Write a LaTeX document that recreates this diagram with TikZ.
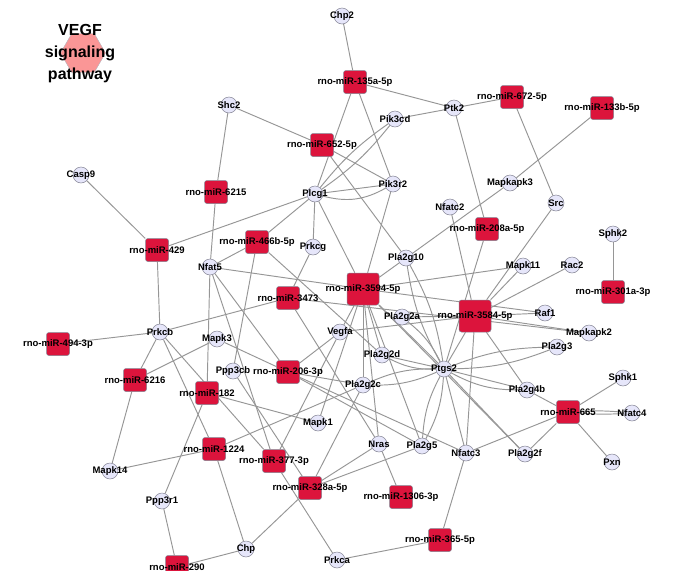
\documentclass[tikz,border=0pt]{standalone}
\usepackage{fontspec}
\setmainfont{Liberation Sans}
\usetikzlibrary{shapes.geometric, positioning}
\definecolor{mirred}{RGB}{220,20,60}
\definecolor{genefill}{RGB}{230,230,250}
\definecolor{nodeline}{RGB}{130,130,145}
\definecolor{edgegray}{RGB}{150,150,150}
\definecolor{hexpink}{RGB}{250,150,150}
\pgfdeclarelayer{bg}
\pgfsetlayers{bg,main}
\tikzset{
  mirna/.style={rectangle, rounded corners=2.5pt, fill=mirred, draw=nodeline,
    line width=0.5pt, minimum size=23pt, inner sep=0pt},
  bigmirna/.style={mirna, minimum size=32pt},
  gene/.style={circle, fill=genefill, draw=nodeline, line width=0.5pt,
    minimum size=16pt, inner sep=0pt},
  lbl/.style={font=\fontsize{9.5}{11}\selectfont\bfseries, inner sep=0pt, text=black},
  edge/.style={draw=edgegray, line width=0.95pt},
  pathway/.style={regular polygon, regular polygon sides=6, fill=hexpink,
    draw=nodeline!60, minimum size=45pt, inner sep=0pt},
  title/.style={align=center, font=\fontsize{16}{22}\selectfont\bfseries}
}

\begin{document}
\begin{tikzpicture}[x=1pt, y=-1pt]
    \useasboundingbox (0,0) rectangle (673,571);
    \clip (0,0) rectangle (673,571);

    % Pathway node
    \node[pathway] (vegf) at (83,53) {};
    \node[title] (vegftitle) at (80,54) {VEGF\\signaling\\pathway};

    % Genes
    \node[gene, label={[lbl]center:Chp2}] (chp2) at (342,16) {};
    \node[gene, label={[lbl]center:Shc2}] (shc2) at (229,105) {};
    \node[gene, label={[lbl]center:Pik3cd}] (pik3cd) at (395,119) {};
    \node[gene, label={[lbl]center:Ptk2}] (ptk2) at (454,108) {};
    \node[gene, label={[lbl]center:Casp9}] (casp9) at (81,175) {};
    \node[gene, label={[lbl]center:Plcg1}] (plcg1) at (315,194) {};
    \node[gene, label={[lbl]center:Pik3r2}] (pik3r2) at (393,184) {};
    \node[gene, label={[lbl]center:Mapkapk3}] (mapkapk3) at (510,183) {};
    \node[gene, label={[lbl]center:Nfatc2}] (nfatc2) at (450,207) {};
    \node[gene, label={[lbl]center:Src}] (src) at (556,203) {};
    \node[gene, label={[lbl]center:Sphk2}] (sphk2) at (613,234) {};
    \node[gene, label={[lbl]center:Prkcg}] (prkcg) at (313,247) {};
    \node[gene, label={[lbl]center:Nfat5}] (nfat5) at (210,267) {};
    \node[gene, label={[lbl]center:Pla2g10}] (pla2g10) at (406,258) {};
    \node[gene, label={[lbl]center:Mapk11}] (mapk11) at (523,266) {};
    \node[gene, label={[lbl]center:Rac2}] (rac2) at (572,265) {};
    \node[gene, label={[lbl]center:Raf1}] (raf1) at (545,313) {};
    \node[gene, label={[lbl]center:Pla2g2a}] (pla2g2a) at (402,317) {};
    \node[gene, label={[lbl]center:Vegfa}] (vegfa) at (340,332) {};
    \node[gene, label={[lbl]center:Mapkapk2}] (mapkapk2) at (589,333) {};
    \node[gene, label={[lbl]center:Prkcb}] (prkcb) at (160,332) {};
    \node[gene, label={[lbl]center:Mapk3}] (mapk3) at (217,339) {};
    \node[gene, label={[lbl]center:Ppp3cb}] (ppp3cb) at (233,371) {};
    \node[gene, label={[lbl]center:Pla2g3}] (pla2g3) at (557,347) {};
    \node[gene, label={[lbl]center:Pla2g2d}] (pla2g2d) at (382,355) {};
    \node[gene, label={[lbl]center:Ptgs2}] (ptgs2) at (444,369) {};
    \node[gene, label={[lbl]center:Pla2g2c}] (pla2g2c) at (363,385) {};
    \node[gene, label={[lbl]center:Pla2g4b}] (pla2g4b) at (527,390) {};
    \node[gene, label={[lbl]center:Sphk1}] (sphk1) at (623,378) {};
    \node[gene, label={[lbl]center:Nfatc4}] (nfatc4) at (632,413) {};
    \node[gene, label={[lbl]center:Mapk1}] (mapk1) at (318,423) {};
    \node[gene, label={[lbl]center:Nras}] (nras) at (379,444) {};
    \node[gene, label={[lbl]center:Pla2g5}] (pla2g5) at (422,446) {};
    \node[gene, label={[lbl]center:Nfatc3}] (nfatc3) at (466,453) {};
    \node[gene, label={[lbl]center:Pla2g2f}] (pla2g2f) at (525,454) {};
    \node[gene, label={[lbl]center:Pxn}] (pxn) at (612,462) {};
    \node[gene, label={[lbl]center:Mapk14}] (mapk14) at (110,471) {};
    \node[gene, label={[lbl]center:Ppp3r1}] (ppp3r1) at (162,501) {};
    \node[gene, label={[lbl]center:Chp}] (chp) at (246,549) {};
    \node[gene, label={[lbl]center:Prkca}] (prkca) at (337,560) {};

    % miRNAs
    \node[mirna, label={[lbl]center:rno-miR-135a-5p}] (m135a) at (355,82) {};
    \node[mirna, label={[lbl]center:rno-miR-652-5p}] (m652) at (322,145) {};
    \node[mirna, label={[lbl]center:rno-miR-672-5p}] (m672) at (512,97) {};
    \node[mirna, label={[lbl]center:rno-miR-133b-5p}] (m133b) at (602,108) {};
    \node[mirna, label={[lbl]center:rno-miR-6215}] (m6215) at (216,192) {};
    \node[mirna, label={[lbl]center:rno-miR-429}] (m429) at (157,250) {};
    \node[mirna, label={[lbl]center:rno-miR-466b-5p}] (m466b) at (257,242) {};
    \node[mirna, label={[lbl]center:rno-miR-208a-5p}] (m208a) at (487,229) {};
    \node[bigmirna, label={[lbl]center:rno-miR-3594-5p}] (m3594) at (363,289) {};
    \node[bigmirna, label={[lbl]center:rno-miR-3584-5p}] (m3584) at (475,316) {};
    \node[mirna, label={[lbl]center:rno-miR-301a-3p}] (m301a) at (613,292) {};
    \node[mirna, label={[lbl]center:rno-miR-3473}] (m3473) at (288,298) {};
    \node[mirna, label={[lbl]center:rno-miR-494-3p}] (m494) at (58,344) {};
    \node[mirna, label={[lbl]center:rno-miR-206-3p}] (m206) at (288,372) {};
    \node[mirna, label={[lbl]center:rno-miR-6216}] (m6216) at (135,380) {};
    \node[mirna, label={[lbl]center:rno-miR-182}] (m182) at (207,393) {};
    \node[mirna, label={[lbl]center:rno-miR-665}] (m665) at (568,412) {};
    \node[mirna, label={[lbl]center:rno-miR-1224}] (m1224) at (214,449) {};
    \node[mirna, label={[lbl]center:rno-miR-377-3p}] (m377) at (274,461) {};
    \node[mirna, label={[lbl]center:rno-miR-328a-5p}] (m328a) at (310,488) {};
    \node[mirna, label={[lbl]center:rno-miR-1306-3p}] (m1306) at (401,497) {};
    \node[mirna, label={[lbl]center:rno-miR-365-5p}] (m365) at (440,540) {};
    \node[mirna, label={[lbl]center:rno-miR-290}] (m290) at (177,567) {};

    \begin{pgfonlayer}{bg}
    % miRNA - gene edges
    \draw[edge] (m135a) -- (chp2); \draw[edge] (m135a) -- (ptk2); \draw[edge] (m135a) -- (pik3r2); \draw[edge] (m135a) -- (plcg1);
    \draw[edge] (m652) -- (shc2); \draw[edge] (m652) -- (pik3r2); \draw[edge] (m652) -- (pla2g10);
    \draw[edge] (m672) -- (ptk2); \draw[edge] (m672) -- (src);
    \draw[edge] (m133b) -- (mapkapk3);
    \draw[edge] (m6215) -- (shc2); \draw[edge] (m6215) -- (nfat5);
    \draw[edge] (m429) -- (casp9); \draw[edge] (m429) -- (plcg1); \draw[edge] (m429) -- (prkcb);
    \draw[edge] (m466b) -- (plcg1); \draw[edge] (m466b) -- (nfat5); \draw[edge] (m466b) -- (ppp3cb); \draw[edge] (m466b) -- (pla2g2d);
    \draw[edge] (m208a) -- (ptk2); \draw[edge] (m208a) -- (ptgs2);
    \draw[edge] (m3594) -- (pik3r2); \draw[edge] (m3594) -- (plcg1); \draw[edge] (m3594) -- (nfat5);
    \draw[edge] (m3594) -- (mapkapk3); \draw[edge] (m3594) -- (mapk11); \draw[edge] (m3594) -- (raf1);
    \draw[edge] (m3594) -- (vegfa); \draw[edge] (m3594) -- (mapk1); \draw[edge] (m3594) -- (pla2g2c);
    \draw[edge] (m3594) -- (pla2g2d); \draw[edge] (m3594) -- (ptgs2); \draw[edge] (m3594) -- (pla2g5);
    \draw[edge] (m3594) -- (nras); \draw[edge] (m3594) -- (pla2g2f);
    \draw[edge] (m3584) -- (src); \draw[edge] (m3584) -- (nfatc2); \draw[edge] (m3584) -- (mapk11);
    \draw[edge] (m3584) -- (rac2); \draw[edge] (m3584) -- (raf1); \draw[edge] (m3584) -- (mapkapk2);
    \draw[edge] (m3584) -- (vegfa); \draw[edge] (m3584) -- (pla2g2a); \draw[edge] (m3584) -- (ptgs2);
    \draw[edge] (m3584) -- (pla2g4b); \draw[edge] (m3584) -- (nfatc3);
    \draw[edge] (m301a) -- (sphk2);
    \draw[edge] (m3473) -- (prkcg); \draw[edge] (m3473) -- (prkcb); \draw[edge] (m3473) -- (mapkapk2); \draw[edge] (m3473) -- (nras);
    \draw[edge] (m494) -- (prkcb);
    \draw[edge] (m206) -- (mapk3); \draw[edge] (m206) -- (nfat5); \draw[edge] (m206) -- (vegfa);
    \draw[edge] (m206) -- (pla2g2c); \draw[edge] (m206) -- (pla2g5); \draw[edge] (m206) -- (nfatc3);
    \draw[edge] (m6216) -- (prkcb); \draw[edge] (m6216) -- (mapk3); \draw[edge] (m6216) -- (mapk14);
    \draw[edge] (m182) -- (nfat5); \draw[edge] (m182) -- (mapk1); \draw[edge] (m182) -- (ppp3r1);
    \draw[edge] (m665) -- (sphk1); \draw[edge] (m665) to[bend left=4] (nfatc4); \draw[edge] (m665) to[bend right=4] (nfatc4);
    \draw[edge] (m665) -- (pxn); \draw[edge] (m665) -- (pla2g2f); \draw[edge] (m665) -- (nfatc3); \draw[edge] (m665) -- (pla2g4b);
    \draw[edge] (m1224) -- (prkcb); \draw[edge] (m1224) -- (mapk14); \draw[edge] (m1224) -- (pla2g2c); \draw[edge] (m1224) -- (chp);
    \draw[edge] (m377) -- (nfat5); \draw[edge] (m377) -- (prkcb); \draw[edge] (m377) -- (vegfa); \draw[edge] (m377) -- (prkca);
    \draw[edge] (m328a) -- (ppp3cb); \draw[edge] (m328a) -- (pla2g2c); \draw[edge] (m328a) -- (nras);
    \draw[edge] (m328a) -- (pla2g5); \draw[edge] (m328a) -- (chp);
    \draw[edge] (m1306) -- (nras);
    \draw[edge] (m365) -- (nfatc3); \draw[edge] (m365) -- (prkca);
    \draw[edge] (m290) -- (ppp3r1); \draw[edge] (m290) -- (chp);

    % gene - gene edges
    \draw[edge] (pik3cd) -- (ptk2);
    \draw[edge] (plcg1) to[bend left=8] (pik3cd); \draw[edge] (plcg1) to[bend right=8] (pik3cd);
    \draw[edge] (plcg1) -- (pik3r2); \draw[edge] (plcg1) to[bend right=22] (pik3r2);
    \draw[edge] (plcg1) -- (prkcg);
    \draw[edge] (ptgs2) to[bend left=10] (pla2g10); \draw[edge] (ptgs2) to[bend right=10] (pla2g10);
    \draw[edge] (ptgs2) to[bend right=12] (pla2g2a);
    \draw[edge] (ptgs2) -- (pla2g2d); \draw[edge] (ptgs2) to[bend left=14] (pla2g2d);
    \draw[edge] (ptgs2) to[bend left=12] (pla2g2c); \draw[edge] (ptgs2) to[bend right=12] (pla2g2c);
    \draw[edge] (ptgs2) to[bend left=12] (pla2g5); \draw[edge] (ptgs2) to[bend right=12] (pla2g5);
    \draw[edge] (ptgs2) to[bend left=10] (pla2g3); \draw[edge] (ptgs2) to[bend right=10] (pla2g3);
    \draw[edge] (ptgs2) -- (pla2g4b); \draw[edge] (ptgs2) to[bend right=14] (pla2g4b);
    \draw[edge] (ptgs2) -- (pla2g2f); \draw[edge] (ptgs2) -- (nfatc3);
    \end{pgfonlayer}
\end{tikzpicture}
\end{document}
